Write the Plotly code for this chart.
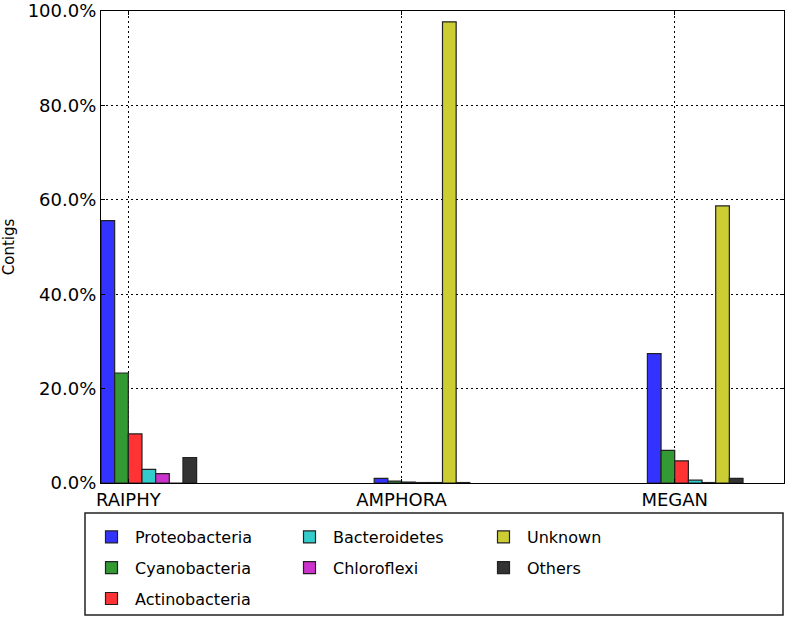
import plotly.graph_objects as go

categories = ["RAIPHY", "AMPHORA", "MEGAN"]
proteobacteria = [55.6, 1.0, 27.4]
cyanobacteria = [23.3, 0.4, 6.9]
actinobacteria = [10.4, 0.2, 4.7]
bacteroidetes = [2.9, 0.1, 0.6]
chloroflexi = [2.0, 0.1, 0.1]
unknown = [0.0, 97.7, 58.7]
others = [5.4, 0.1, 1.0]

y_ticks = [0, 20, 40, 60, 80, 100]
y_tick_labels = ["0.0%", "20.0%", "40.0%", "60.0%", "80.0%", "100.0%"]

series = [
    ("Proteobacteria", proteobacteria, "#3333ff", "legend"),
    ("Cyanobacteria", cyanobacteria, "#339933", "legend"),
    ("Actinobacteria", actinobacteria, "#ff3333", "legend"),
    ("Bacteroidetes", bacteroidetes, "#33cccc", "legend2"),
    ("Chloroflexi", chloroflexi, "#cc33cc", "legend2"),
    ("Unknown", unknown, "#cccc33", "legend3"),
    ("Others", others, "#333333", "legend3"),
]

bar_w = 0.05
idx = list(range(len(categories)))

fig = go.Figure()
for i, (name, vals, col, lg) in enumerate(series):
    fig.add_trace(go.Bar(
        x=idx, y=vals, name=name, width=bar_w, offset=i * bar_w,
        marker=dict(color=col, line=dict(color="#222222", width=1.2)),
        legend=lg, legendgroup=name,
    ))

FONT = "DejaVu Sans"
L, T, PW, PH = 101, 11, 683, 472

def px2x(px):
    return (px - L) / PW

def py2y(py):
    return (T + PH - py) / PH

legend_common = dict(
    bgcolor="rgba(0,0,0,0)", borderwidth=0, font=dict(family=FONT, size=16, color="black"),
    itemwidth=37, tracegroupgap=7, traceorder="grouped", xanchor="left", yanchor="top",
    orientation="v",
)

fig.update_layout(
    width=788, height=621,
    margin=dict(l=L, r=788 - L - PW, t=T, b=621 - T - PH, autoexpand=False),
    paper_bgcolor="white", plot_bgcolor="white",
    font=dict(family=FONT, color="black"),
    barmode="overlay",
    showlegend=True,
    legend=dict(x=px2x(88), y=py2y(520), **legend_common),
    legend2=dict(x=px2x(286), y=py2y(520), **legend_common),
    legend3=dict(x=px2x(480), y=py2y(520), **legend_common),
    xaxis=dict(
        range=[0, 2.5], tickvals=[v + 2 * bar_w for v in idx], ticktext=categories,
        showgrid=True, gridcolor="black", griddash="2px,3px", gridwidth=1,
        showline=True, linecolor="black", linewidth=1.2, mirror="ticks",
        ticks="inside", ticklen=4, tickcolor="black",
        tickfont=dict(family=FONT, size=18), zeroline=False,
    ),
    yaxis=dict(
        range=[0, 100.0001], tickvals=y_ticks, ticktext=y_tick_labels,
        showgrid=True, gridcolor="black", griddash="2px,3px", gridwidth=1,
        showline=True, linecolor="black", linewidth=1.2, mirror="ticks",
        ticks="inside", ticklen=4, tickcolor="black",
        tickfont=dict(family=FONT, size=18), zeroline=False,
        ticklabeloverflow="allow",
        title=dict(text="Contigs", font=dict(family=FONT, size=15), standoff=20),
    ),
    shapes=[dict(
        type="rect", xref="paper", yref="paper",
        x0=px2x(85), x1=px2x(783), y0=py2y(513), y1=py2y(615),
        line=dict(color="#222222", width=1.5), fillcolor="rgba(0,0,0,0)",
    )],
)

fig.write_html(
    "out.html",
    config={"displayModeBar": False},
    post_script="document.body.style.margin='0';document.body.style.overflow='hidden';",
)
